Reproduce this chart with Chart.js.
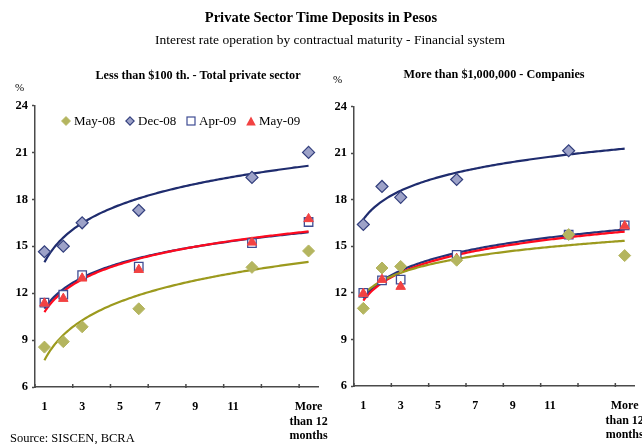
<!DOCTYPE html>
<html>
<head>
<meta charset="utf-8">
<script src="https://cdn.jsdelivr.net/npm/chart.js@4.4.0/dist/chart.umd.min.js"></script>
<style>
  html, body { margin: 0; padding: 0; background: #fff; overflow: hidden; }
  #wrap { position: relative; width: 642px; height: 444px; font-family: "Liberation Serif", "Times New Roman", serif; color: #000; }
  canvas { position: absolute; left: 0; top: 0; }
  .t { position: absolute; white-space: nowrap; line-height: 1; }
  .c { transform: translateX(-50%); }
  .lg { position: absolute; top: 114px; display: flex; align-items: center; font-size: 13px; line-height: 1; }
  .lg svg { margin-right: 3px; }
</style>
</head>
<body>
<div id="wrap">
  <canvas id="leftPanel" width="642" height="444"></canvas>
  <canvas id="rightPanel" width="642" height="444"></canvas>

  <div class="t c" style="left:321px; top:10px; font-size:14.5px; font-weight:bold;">Private Sector Time Deposits in Pesos</div>
  <div class="t c" style="left:330px; top:33px; font-size:13.5px;">Interest rate operation by contractual maturity - Financial system</div>
  <div class="t c" style="left:198px; top:69px; font-size:12.2px; font-weight:bold;">Less than $100 th. - Total private sector</div>
  <div class="t c" style="left:494px; top:68px; font-size:12.2px; font-weight:bold;">More than $1,000,000 - Companies</div>
  <div class="t" style="left:15px; top:82px; font-size:11px;">%</div>
  <div class="t" style="left:333px; top:74px; font-size:11px;">%</div>
  <div class="t" style="left:10px; top:432px; font-size:12.5px;">Source: SISCEN, BCRA</div>

  <div id="legend"></div>
</div>

<script>
// Contractual maturity in months; the last slot (15) is the "More than 12 months" bucket.
const maturityMonths = [1, 2, 3, 6, 12, 15];

// Bottom axis labels and where they sit
const axisTickValues = [1, 3, 5, 7, 9, 11, 13, 15];
const axisTickLabels = ['1', '3', '5', '7', '9', '11', '', ['More', 'than 12', 'months']];
// Small tick marks between label groups
const axisTickMarks = [0.5, 2.5, 4.5, 6.5, 8.5, 10.5, 12.5, 14.5];

const seriesNames = ['May-08', 'Dec-08', 'Apr-09', 'May-09'];

// Less than $100 th. - Total private sector (% annual rate)
const under100k_May08 = [8.55, 8.9, 9.85, 11.0, 13.65, 14.7];
const under100k_Dec08 = [14.65, 15.0, 16.5, 17.3, 19.4, 21.0];
const under100k_Apr09 = [11.4, 11.9, 13.15, 13.7, 15.2, 16.55];
const under100k_May09 = [11.35, 11.65, 12.95, 13.5, 15.25, 16.75];

// More than $1,000,000 - Companies (% annual rate)
const over1m_May08 = [11.0, 13.6, 13.7, 14.1, 15.75, 14.4];
const over1m_Dec08 = [16.4, 18.85, 18.15, 19.3, 21.15, null];
const over1m_Apr09 = [12.0, 12.8, 12.85, 14.45, 15.75, 16.35];
const over1m_May09 = [11.95, 12.85, 12.4, 14.2, 15.7, 16.3];

const yMin = 6, yMax = 24, yStep = 3;

// Marker and trendline styling per series (lower order is drawn on top)
const seriesStyles = [
  { pointStyle: 'rectRot',  radius: 6,   fill: '#B4B55F', border: '#B4B55F', borderWidth: 1,   trend: '#9C9A1E', order: 0, trendOrder: 12 },
  { pointStyle: 'rectRot',  radius: 6,   fill: '#9DA2C8', border: '#34407E', borderWidth: 1.2, trend: '#1F2C6E', order: 3, trendOrder: 11 },
  { pointStyle: 'rect',     radius: 6,   fill: '#FFFFFF', border: '#3F4C93', borderWidth: 1.3, trend: '#26337A', order: 2, trendOrder: 14 },
  { pointStyle: 'triangle', radius: 5.5, fill: '#F24242', border: '#F24242', borderWidth: 1,   trend: '#FF0A1E', order: 1, trendOrder: 13 }
];

// Least-squares logarithmic trendline y = a + b ln(x), across the maturity range
function logTrend(values) {
  const pts = maturityMonths.map((m, i) => [m, values[i]]).filter(p => p[1] != null);
  const lx = pts.map(p => Math.log(p[0]));
  const ys = pts.map(p => p[1]);
  const mx = lx.reduce((s, v) => s + v, 0) / lx.length;
  const my = ys.reduce((s, v) => s + v, 0) / ys.length;
  let sxy = 0, sxx = 0;
  lx.forEach((v, i) => { sxy += (v - mx) * (ys[i] - my); sxx += (v - mx) * (v - mx); });
  const b = sxy / sxx, a = my - b * mx;
  const x0 = maturityMonths[0], x1 = maturityMonths[maturityMonths.length - 1];
  const out = [];
  const steps = 140;
  for (let k = 0; k <= steps; k++) {
    const x = x0 + (x1 - x0) * k / steps;
    out.push({ x, y: a + b * Math.log(x) });
  }
  return out;
}

function buildDatasets(seriesValues) {
  const points = seriesValues.map((vals, i) => {
    const st = seriesStyles[i];
    return {
      label: seriesNames[i],
      data: maturityMonths.map((m, j) => ({ x: m, y: vals[j] })).filter(p => p.y != null),
      showLine: false,
      pointStyle: st.pointStyle,
      pointRadius: st.radius,
      backgroundColor: st.fill,
      borderColor: st.border,
      pointBorderWidth: st.borderWidth,
      order: st.order
    };
  });
  const trends = seriesValues.map((vals, i) => {
    const st = seriesStyles[i];
    return {
      label: seriesNames[i] + ' trend',
      data: logTrend(vals),
      showLine: true,
      pointRadius: 0,
      borderColor: st.trend,
      borderWidth: 2.2,
      tension: 0,
      order: st.trendOrder
    };
  });
  return points.concat(trends);
}

const AXIS_COLOR = '#4a4a4a';
const TICK_FONT = { family: '"Liberation Serif", "Times New Roman", serif', size: 12.5, weight: 'bold' };

// Short marks on the bottom axis between label groups
const bottomTickMarks = {
  id: 'bottomTickMarks',
  afterDraw(chart) {
    const s = chart.scales.x, ctx = chart.ctx;
    ctx.save();
    ctx.strokeStyle = AXIS_COLOR;
    ctx.lineWidth = 1.5;
    axisTickMarks.forEach(v => {
      const px = s.getPixelForValue(v);
      ctx.beginPath();
      ctx.moveTo(px, s.top - 3);
      ctx.lineTo(px, s.top + 1);
      ctx.stroke();
    });
    ctx.restore();
  }
};

function makePanel(canvasId, seriesValues, g) {
  return new Chart(document.getElementById(canvasId), {
    type: 'scatter',
    data: { datasets: buildDatasets(seriesValues) },
    options: {
      responsive: false,
      animation: false,
      events: [],
      layout: { padding: g.padding },
      plugins: { legend: { display: false }, tooltip: { enabled: false } },
      scales: {
        x: {
          type: 'linear',
          min: 0.5,
          max: 15.5,
          afterBuildTicks: s => { s.ticks = axisTickValues.map(v => ({ value: v })); },
          afterFit: s => { s.height = g.xAxisH; s.paddingLeft = 0; s.paddingRight = 0; },
          ticks: {
            autoSkip: false, maxRotation: 0, minRotation: 0, padding: 13,
            color: '#000', font: { ...TICK_FONT, size: 12 },
            callback: (v, i) => axisTickLabels[i]
          },
          grid: { drawOnChartArea: false, drawTicks: false },
          border: { color: AXIS_COLOR, width: 1.5 }
        },
        y: {
          type: 'linear',
          min: yMin,
          max: yMax,
          afterFit: s => { s.width = g.yAxisW; },
          ticks: { stepSize: yStep, padding: 4, color: '#000', font: TICK_FONT },
          grid: { drawOnChartArea: false, tickLength: 3, tickColor: AXIS_COLOR, tickWidth: 1.5 },
          border: { color: AXIS_COLOR, width: 1.5 }
        }
      }
    },
    plugins: [bottomTickMarks]
  });
}

makePanel('leftPanel',
  [under100k_May08, under100k_Dec08, under100k_Apr09, under100k_May09],
  { padding: { left: 0, top: 105.5, right: 324, bottom: 0 }, yAxisW: 35, xAxisH: 57 });

makePanel('rightPanel',
  [over1m_May08, over1m_Dec08, over1m_Apr09, over1m_May09],
  { padding: { left: 319, top: 106.5, right: 8, bottom: 0 }, yAxisW: 35, xAxisH: 58 });

// Legend for the series markers
const legendLeft = [61, 125, 186, 246];
const markerSvg = [
  st => `<svg width="10" height="10" viewBox="0 0 10 10"><polygon points="5,0.5 9.5,5 5,9.5 0.5,5" fill="${st.fill}" stroke="${st.border}" stroke-width="0.8"/></svg>`,
  st => `<svg width="10" height="10" viewBox="0 0 10 10"><polygon points="5,0.8 9.2,5 5,9.2 0.8,5" fill="${st.fill}" stroke="${st.border}" stroke-width="1.1"/></svg>`,
  st => `<svg width="10" height="10" viewBox="0 0 10 10"><rect x="1" y="1" width="8" height="8" fill="${st.fill}" stroke="${st.border}" stroke-width="1.2"/></svg>`,
  st => `<svg width="10" height="10" viewBox="0 0 10 10"><polygon points="5,0.5 9.8,9.5 0.2,9.5" fill="${st.fill}"/></svg>`
];
const legendEl = document.getElementById('legend');
seriesNames.forEach((name, i) => {
  const item = document.createElement('div');
  item.className = 'lg';
  item.style.left = legendLeft[i] + 'px';
  item.innerHTML = markerSvg[i](seriesStyles[i]) + '<span>' + name + '</span>';
  legendEl.appendChild(item);
});
</script>
</body>
</html>
